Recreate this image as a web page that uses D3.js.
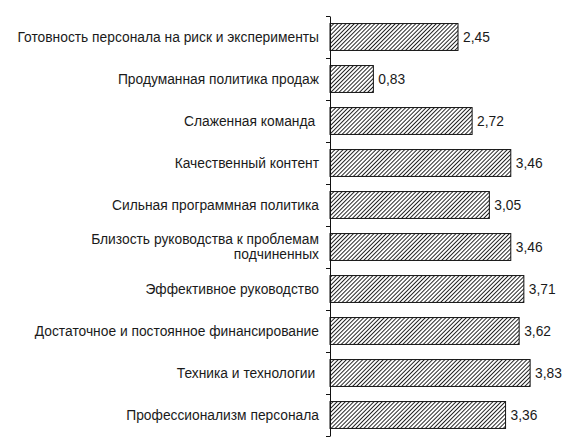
<!DOCTYPE html>
<html>
<head>
<meta charset="utf-8">
<script src="https://cdn.jsdelivr.net/npm/d3@7"></script>
<style>
  body { margin: 0; background: #fff; }
  text { font-family: "Liberation Sans", Arial, sans-serif; fill: #1a1a1a; white-space: pre; }
</style>
</head>
<body>
<div id="chart"></div>
<script>
// categories from top to bottom
var categories = [
    ["Готовность персонала на риск и эксперименты"],
    ["Продуманная политика продаж"],
    ["Слаженная команда "],
    ["Качественный контент"],
    ["Сильная программная политика"],
    ["Близость руководства к проблемам", "подчиненных"],
    ["Эффективное руководство"],
    ["Достаточное и постоянное финансирование"],
    ["Техника и технологии "],
    ["Профессионализм персонала"]
];
var values = [2.45, 0.83, 2.72, 3.46, 3.05, 3.46, 3.71, 3.62, 3.83, 3.36];
var valueLabels = ["2,45", "0,83", "2,72", "3,46", "3,05", "3,46", "3,71", "3,62", "3,83", "3,36"];

var width = 575, height = 442;
var margin = { top: 16, left: 330, bottom: 6 };
var plotH = 420;

var svg = d3.select("#chart").append("svg")
    .attr("width", width)
    .attr("height", height);

// hatch pattern
var defs = svg.append("defs");
defs.append("pattern")
    .attr("id", "hatch")
    .attr("patternUnits", "userSpaceOnUse")
    .attr("width", 2.9)
    .attr("height", 2.9)
    .attr("patternTransform", "rotate(45)")
    .append("line")
    .attr("x1", 0).attr("y1", 0)
    .attr("x2", 0).attr("y2", 2.9)
    .attr("stroke", "#111")
    .attr("stroke-width", 1.8);

var idx = d3.range(categories.length);

var y = d3.scaleBand()
    .domain(idx)
    .range([margin.top, margin.top + plotH])
    .paddingInner(0.36)
    .paddingOuter(0.18);

var x = d3.scaleLinear()
    .domain([0, 4])
    .range([margin.left, margin.left + 209]);

// bars
svg.selectAll(".bar")
    .data(values)
    .enter().append("rect")
    .attr("class", "bar")
    .attr("x", x(0))
    .attr("y", function(d, i) { return y(i); })
    .attr("width", function(d) { return x(d) - x(0); })
    .attr("height", y.bandwidth())
    .attr("fill", "url(#hatch)")
    .attr("stroke", "#111")
    .attr("stroke-width", 1);

// value labels
svg.selectAll(".val")
    .data(values)
    .enter().append("text")
    .attr("class", "val")
    .attr("x", function(d) { return x(d) + 5; })
    .attr("y", function(d, i) { return y(i) + y.bandwidth() / 2; })
    .attr("dy", "0.36em")
    .style("font-size", "13.8px")
    .text(function(d, i) { return valueLabels[i]; });

// axis with ticks between categories
var edge = d3.scaleLinear()
    .domain([0, categories.length])
    .range([margin.top, margin.top + plotH]);

svg.append("g")
    .attr("transform", "translate(" + margin.left + ",0)")
    .call(d3.axisLeft(edge).ticks(categories.length).tickSize(4).tickSizeOuter(0).tickFormat(""))
    .call(function(g) { g.selectAll("line, path").attr("stroke", "#111"); });

// category labels
var lab = svg.selectAll(".cat")
    .data(categories)
    .enter().append("text")
    .attr("class", "cat")
    .attr("text-anchor", "end")
    .style("font-size", "13.8px")
    .attr("y", function(d, i) {
        return y(i) + y.bandwidth() / 2 - (d.length - 1) * 7.5;
    });

lab.selectAll("tspan")
    .data(function(d) { return d; })
    .enter().append("tspan")
    .attr("x", 319)
    .attr("dy", function(d, j) { return j === 0 ? "0.36em" : "15"; })
    .text(function(d) { return d; });
</script>
</body>
</html>
